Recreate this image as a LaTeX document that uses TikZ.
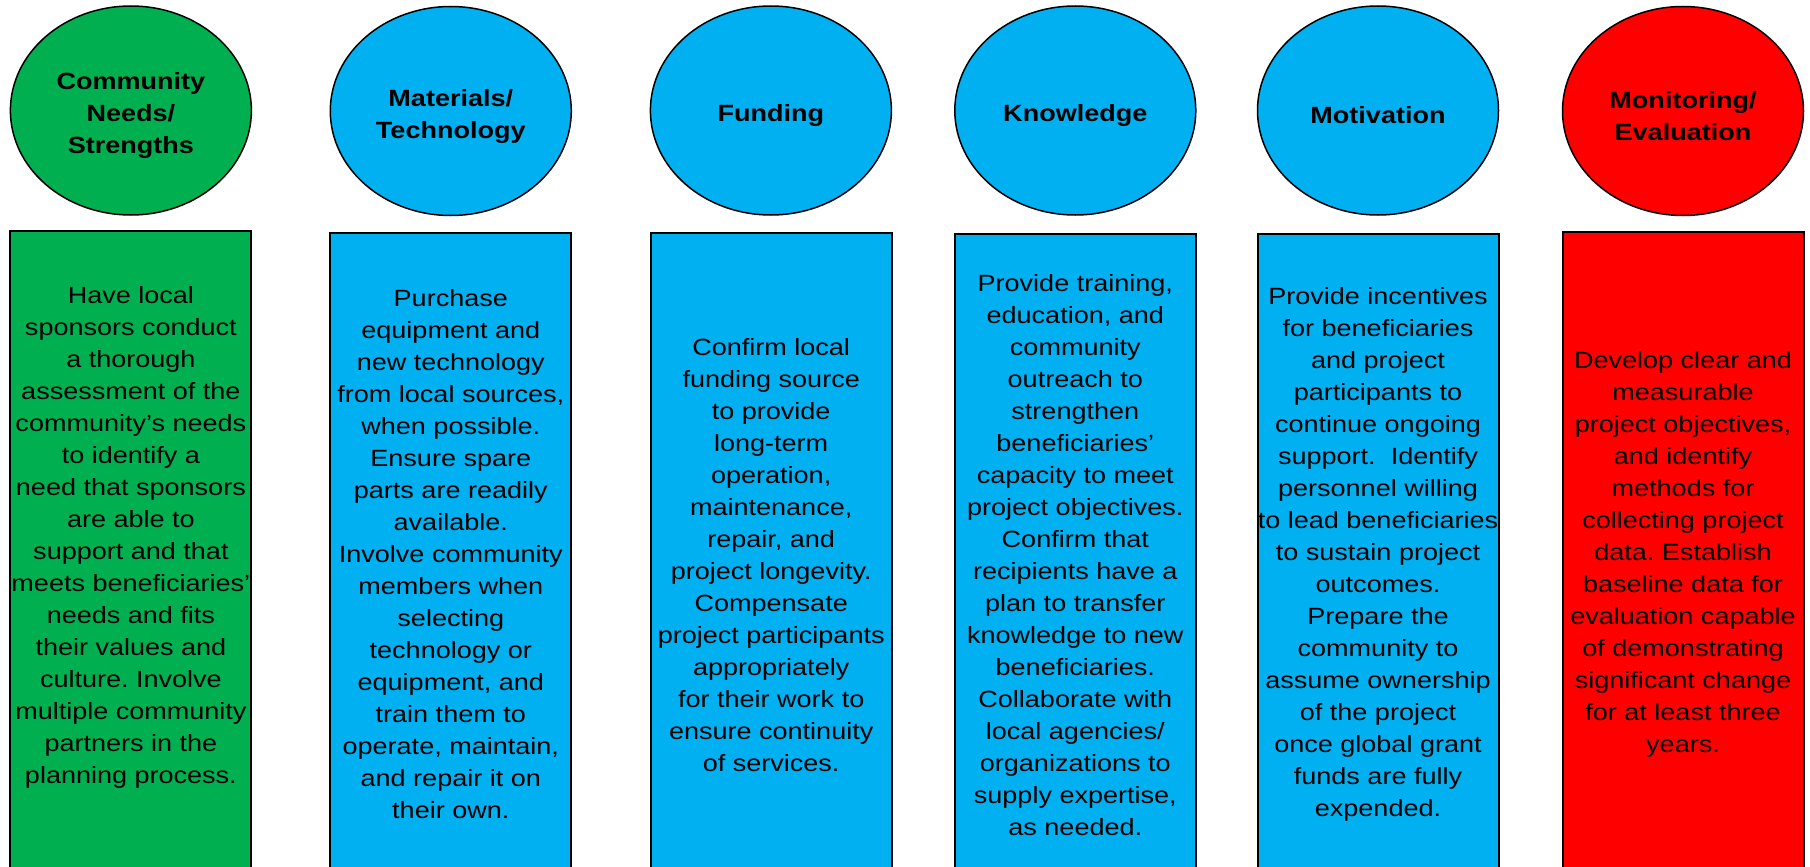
\documentclass[tikz,border=0pt]{standalone}
\usepackage{fontspec}
\setmainfont{Liberation Sans}[FakeStretch=1.15]
\usetikzlibrary{shapes.geometric}
\definecolor{cgreen}{HTML}{00B050}
\definecolor{cblue}{HTML}{00B0F0}
\definecolor{cred}{HTML}{FF0000}
\frenchspacing
\begin{document}
\begin{tikzpicture}[x=1pt,y=-1pt,
  head/.style={ellipse, draw=black, line width=1.5pt, minimum width=241pt, minimum height=209pt,
    inner sep=0pt},
  headtext/.style={align=center, inner sep=0pt, font=\fontsize{23.5}{32}\selectfont\bfseries},
  colbox/.style={rectangle, draw=black, line width=2pt, minimum width=241pt, minimum height=660pt,
    anchor=north, inner sep=0pt},
  body/.style={align=center, inner sep=0pt, font=\fontsize{23.5}{32}\selectfont}
]
\useasboundingbox (0,0) rectangle (1810,867);
\clip (0,0) rectangle (1810,867);
\fill[white] (0,0) rectangle (1810,867);

% headers
\node[head, fill=cgreen] (h1) at (130.9,110.5) {};
\node[head, fill=cblue]  (h2) at (450.8,111) {};
\node[head, fill=cblue]  (h3) at (770.9,110.5) {};
\node[head, fill=cblue]  (h4) at (1075.3,110.5) {};
\node[head, fill=cblue]  (h5) at (1378,110.5) {};
\node[head, fill=cred]   (h6) at (1683,111) {};
\node[headtext] (l1) at ([yshift=-5pt]h1.center) {Community\\Needs/\\Strengths};
\node[headtext] (l2) at ([yshift=-5pt]h2.center) {Materials/\\Technology};
\node[headtext] (l3) at ([yshift=-5pt]h3.center) {Funding};
\node[headtext] (l4) at ([yshift=-5pt]h4.center) {Knowledge};
\node[headtext] (l5) at ([yshift=-5pt]h5.center) {Motivation};
\node[headtext] (l6) at ([yshift=-5pt]h6.center) {Monitoring/\\Evaluation};

% columns
\node[colbox, fill=cgreen] (c1) at (130.9,230) {};
\node[colbox, fill=cblue]  (c2) at (450.8,232) {};
\node[colbox, fill=cblue]  (c3) at (771.2,232) {};
\node[colbox, fill=cblue]  (c4) at (1075.3,233) {};
\node[colbox, fill=cblue]  (c5) at (1378,233) {};
\node[colbox, fill=cred]   (c6) at (1683,231) {};

% texts
\node[body] (t1) at (130.9,537) {Have local\\sponsors conduct\\a thorough\\assessment of the\\community’s needs\\to identify a\\need that sponsors\\are able to\\support and that\\meets beneficiaries’\\needs and fits\\their values and\\culture. Involve\\multiple community\\partners in the\\planning process.};
\node[body] (t2) at (450.8,554) {Purchase\\equipment and\\new technology\\from local sources,\\when possible.\\Ensure spare\\parts are readily\\available.\\Involve community\\members when\\selecting\\technology or\\equipment, and\\train them to\\operate, maintain,\\and repair it on\\their own.};
\node[body] (t3) at (771.2,555) {Confirm local\\funding source\\to provide\\long-term\\operation,\\maintenance,\\repair, and\\project longevity.\\Compensate\\project participants\\appropriately\\for their work to\\ensure continuity\\of services.};
\node[body] (t4) at (1075.3,555) {Provide training,\\education, and\\community\\outreach to\\strengthen\\beneficiaries’\\capacity to meet\\project objectives.\\Confirm that\\recipients have a\\plan to transfer\\knowledge to new\\beneficiaries.\\Collaborate with\\local agencies/\\organizations to\\supply expertise,\\as needed.};
\node[body] (t5) at (1378,554) {Provide incentives\\for beneficiaries\\and project\\participants to\\continue ongoing\\support.\ \ Identify\\personnel willing\\to lead beneficiaries\\to sustain project\\outcomes.\\Prepare the\\community to\\assume ownership\\of the project\\once global grant\\funds are fully\\expended.};
\node[body] (t6) at (1683,554) {Develop clear and\\measurable\\project objectives,\\and identify\\methods for\\collecting project\\data. Establish\\baseline data for\\evaluation capable\\of demonstrating\\significant change\\for at least three\\years.};
\end{tikzpicture}
\end{document}
